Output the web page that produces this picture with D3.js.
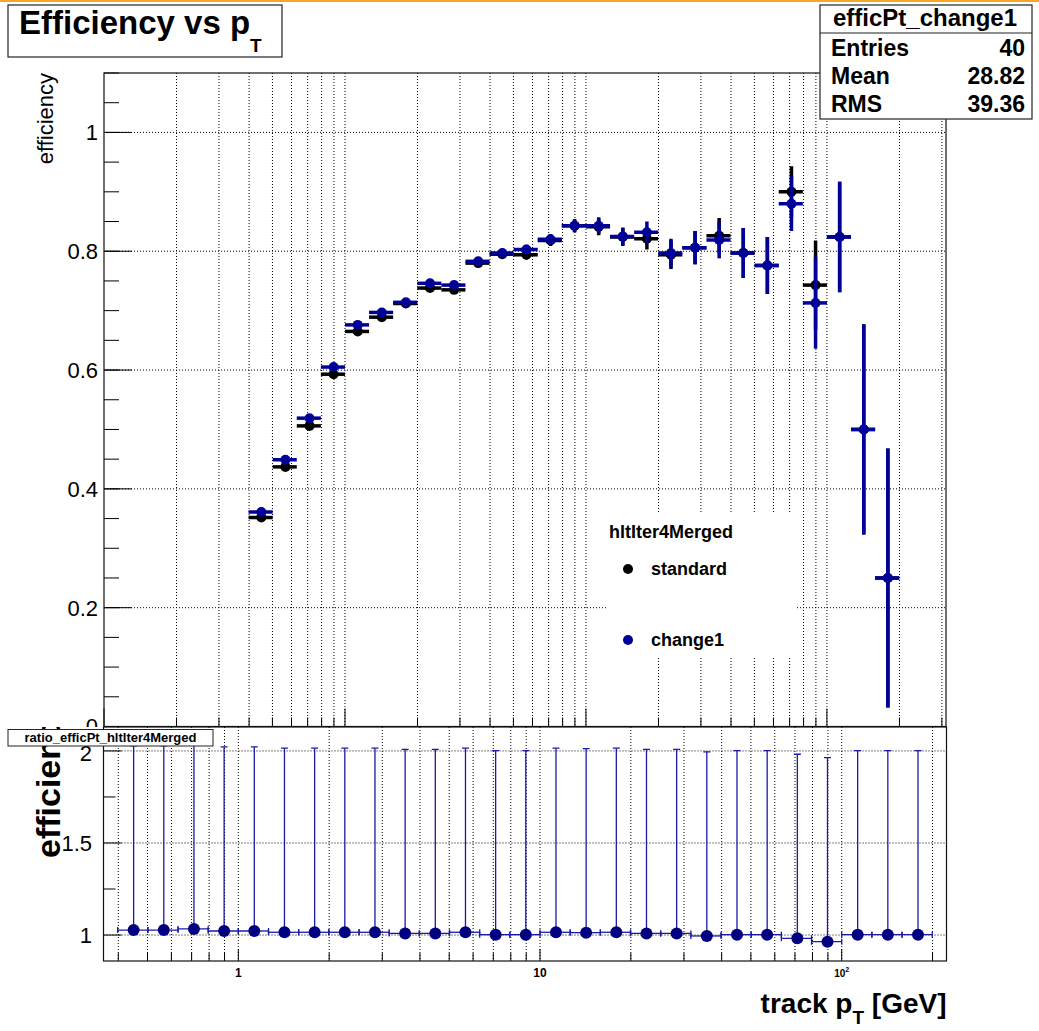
<!DOCTYPE html>
<html><head><meta charset="utf-8">
<script src="https://cdn.jsdelivr.net/npm/d3@7"></script>
<style>
body{margin:0;background:#fff;}
svg{display:block;font-family:"Liberation Sans",Arial,Helvetica,sans-serif;}
</style></head><body>
<svg id="c" width="1039" height="1031"></svg>
<script>
// ---------------- data ----------------
const binEdges = [0.3981, 0.5012, 0.6310, 0.7943, 1.0, 1.2589, 1.5849, 1.9953, 2.5119, 3.1623,
  3.9811, 5.0119, 6.3096, 7.9433, 10.0, 12.589, 15.849, 19.953, 25.119, 31.623,
  39.811, 50.119, 63.096, 79.433, 100.0, 125.89, 158.49, 199.53];
const effStandard = [0.352, 0.437, 0.506, 0.593, 0.665, 0.689, 0.712, 0.738, 0.735, 0.780,
  0.795, 0.794, 0.818, 0.843, 0.841, 0.824, 0.821, 0.794, 0.806, 0.826,
  0.797, 0.776, 0.900, 0.743, 0.824, 0.500, 0.250];
const errStandard = [0.005, 0.005, 0.005, 0.005, 0.005, 0.005, 0.005, 0.005, 0.006, 0.006,
  0.007, 0.008, 0.009, 0.011, 0.014, 0.015, 0.018, 0.024, 0.028, 0.030,
  0.042, 0.048, 0.043, 0.075, 0.093, 0.177, 0.218];
const effChange1 = [0.361, 0.449, 0.519, 0.605, 0.676, 0.697, 0.714, 0.746, 0.743, 0.783,
  0.797, 0.803, 0.820, 0.843, 0.843, 0.825, 0.832, 0.797, 0.806, 0.819,
  0.797, 0.776, 0.880, 0.713, 0.824, 0.500, 0.250];
const errChange1 = [0.005, 0.005, 0.005, 0.005, 0.005, 0.005, 0.005, 0.005, 0.006, 0.006,
  0.007, 0.008, 0.009, 0.011, 0.014, 0.015, 0.018, 0.024, 0.028, 0.031,
  0.042, 0.048, 0.046, 0.077, 0.093, 0.177, 0.218];
const ratioValues = [1.027, 1.027, 1.033, 1.022, 1.022, 1.015, 1.015, 1.015, 1.015, 1.009,
  1.009, 1.015, 1.002, 1.002, 1.015, 1.013, 1.015, 1.009, 1.009, 0.995,
  1.002, 1.002, 0.982, 0.964, 1.002, 1.002, 1.002];
const ratioErrUp = [1.0, 1.0, 1.0, 1.0, 1.0, 1.0, 1.0, 1.0, 1.0, 1.0,
  1.0, 1.0, 1.0, 1.0, 1.0, 1.0, 1.0, 1.0, 1.0, 1.0,
  1.0, 1.0, 1.0, 1.0, 1.0, 1.0, 1.0];
const topYTicks = [0, 0.2, 0.4, 0.6, 0.8, 1.0];
const topYTickLabels = ["0", "0.2", "0.4", "0.6", "0.8", "1"];
const ratioYTicks = [1, 1.5, 2];
const ratioYTickLabels = ["1", "1.5", "2"];
const ratioYMinor = [1.25, 1.75];
const xTickLabels = [{v: 1, base: "1", sup: ""}, {v: 10, base: "10", sup: ""}, {v: 100, base: "10", sup: "2"}];
const statsRows = [["Entries", "40"], ["Mean", "28.82"], ["RMS", "39.36"]];
const legendEntries = [{label: "standard", color: "#000000"}, {label: "change1", color: "#000099"}];

// ---------------- setup ----------------
const svg = d3.select("#c");
const BLUE = "#000099";
const GRID = {stroke: "#000", width: 1, dash: "1,2"};

svg.append("rect").attr("x", 0).attr("y", 0).attr("width", 1039).attr("height", 1031).attr("fill", "#fff");
svg.append("rect").attr("x", 0).attr("y", 0).attr("width", 1039).attr("height", 2).attr("fill", "#f5a623");

// ---------------- top pad ----------------
const xTop = d3.scaleLog().domain([0.1, 312]).range([104, 946]);
const yTop = d3.scaleLinear().domain([0, 1.1]).range([726.5, 73]);
const [tx0, tx1] = xTop.range();
const [ty0, ty1] = yTop.range(); // bottom, top

const isMajor = v => Math.abs(Math.log10(v) - Math.round(Math.log10(v))) < 1e-6;

const topG = svg.append("g");
const topXT = xTop.ticks().filter(v => xTop(v) > tx0 + 0.5 && xTop(v) < tx1 - 0.5);
topG.selectAll("line.vg").data(topXT).join("line")
  .attr("x1", d => xTop(d)).attr("x2", d => xTop(d)).attr("y1", ty1).attr("y2", ty0)
  .attr("stroke", GRID.stroke).attr("stroke-width", GRID.width).attr("stroke-dasharray", GRID.dash);
topG.selectAll("line.hg").data(topYTicks.filter(v => v > 0)).join("line")
  .attr("x1", tx0).attr("x2", tx1).attr("y1", d => yTop(d)).attr("y2", d => yTop(d))
  .attr("stroke", GRID.stroke).attr("stroke-width", GRID.width).attr("stroke-dasharray", GRID.dash);

const topYMinor = d3.range(0, 1.1001, 0.05);
topG.selectAll("line.ymin").data(topYMinor).join("line")
  .attr("x1", tx0).attr("x2", tx0 + 15).attr("y1", d => yTop(d)).attr("y2", d => yTop(d))
  .attr("stroke", "#000").attr("stroke-width", 1);
topG.selectAll("line.ymaj").data(topYTicks).join("line")
  .attr("x1", tx0).attr("x2", tx0 + 28).attr("y1", d => yTop(d)).attr("y2", d => yTop(d))
  .attr("stroke", "#000").attr("stroke-width", 1);
topG.selectAll("line.xt").data(xTop.ticks()).join("line")
  .attr("x1", d => xTop(d)).attr("x2", d => xTop(d)).attr("y1", ty0).attr("y2", d => ty0 - (isMajor(d) ? 18 : 9))
  .attr("stroke", "#000").attr("stroke-width", 1);

topG.selectAll("text.yl").data(topYTicks).join("text")
  .attr("x", 98).attr("y", d => yTop(d)).attr("dy", "0.36em").attr("text-anchor", "end")
  .attr("font-size", 22).text((d, i) => topYTickLabels[i]);
topG.append("text").attr("transform", `translate(53,${ty1}) rotate(-90)`)
  .attr("text-anchor", "end").attr("font-size", 22).text("efficiency");

topG.append("rect").attr("x", tx0).attr("y", ty1).attr("width", tx1 - tx0).attr("height", ty0 - ty1)
  .attr("fill", "none").attr("stroke", "#111").attr("stroke-width", 1.2);

svg.append("clipPath").attr("id", "clipTop").append("rect")
  .attr("x", tx0).attr("y", ty1).attr("width", tx1 - tx0).attr("height", ty0 - ty1);
const dataG = topG.append("g").attr("clip-path", "url(#clipTop)");
function drawSeries(vals, errs, color) {
  const g = dataG.append("g");
  const pts = vals.map((v, i) => ({v, e: errs[i], lo: binEdges[i], hi: binEdges[i + 1]}));
  g.selectAll("line.h").data(pts).join("line")
    .attr("x1", d => xTop(d.lo)).attr("x2", d => xTop(d.hi))
    .attr("y1", d => yTop(d.v)).attr("y2", d => yTop(d.v))
    .attr("stroke", color).attr("stroke-width", 3.5);
  g.selectAll("line.v").data(pts).join("line")
    .attr("x1", d => xTop((d.lo + d.hi) / 2)).attr("x2", d => xTop((d.lo + d.hi) / 2))
    .attr("y1", d => yTop(d.v - d.e)).attr("y2", d => yTop(d.v + d.e))
    .attr("stroke", color).attr("stroke-width", 3.5);
  g.selectAll("circle").data(pts).join("circle")
    .attr("cx", d => xTop((d.lo + d.hi) / 2)).attr("cy", d => yTop(d.v)).attr("r", 5)
    .attr("fill", color);
}
drawSeries(effStandard, errStandard, "#000000");
drawSeries(effChange1, errChange1, BLUE);

// legend
const leg = svg.append("g");
leg.append("rect").attr("x", 607).attr("y", 513).attr("width", 188).attr("height", 145).attr("fill", "#fff");
leg.append("text").attr("x", 609).attr("y", 538).attr("font-size", 18).attr("font-weight", "bold").text("hltIter4Merged");
leg.selectAll("circle").data(legendEntries).join("circle")
  .attr("cx", 628).attr("cy", (d, i) => 569 + i * 71).attr("r", 5).attr("fill", d => d.color);
leg.selectAll("text.le").data(legendEntries).join("text")
  .attr("x", 651).attr("y", (d, i) => 575 + i * 71).attr("font-size", 18).attr("font-weight", "bold")
  .text(d => d.label);

// title box
svg.append("rect").attr("x", 8).attr("y", 5).attr("width", 274).attr("height", 52)
  .attr("fill", "#fff").attr("stroke", "#222").attr("stroke-width", 1.2);
const tt = svg.append("text").attr("x", 19).attr("y", 34).attr("font-size", 33).attr("font-weight", "bold");
tt.append("tspan").text("Efficiency vs p");
tt.append("tspan").attr("font-size", 19).attr("dy", 18).text("T");

// stats box
const sb = svg.append("g");
sb.append("rect").attr("x", 820).attr("y", 5).attr("width", 212).attr("height", 114)
  .attr("fill", "#fff").attr("stroke", "#222").attr("stroke-width", 1.2);
sb.append("line").attr("x1", 820).attr("x2", 1032).attr("y1", 33).attr("y2", 33).attr("stroke", "#222").attr("stroke-width", 1.2);
sb.append("text").attr("x", 925).attr("y", 26).attr("text-anchor", "middle").attr("font-size", 24)
  .attr("font-weight", "bold").text("efficPt_change1");
sb.selectAll("text.sl").data(statsRows).join("text")
  .attr("x", 831).attr("y", (d, i) => 56 + i * 28).attr("font-size", 23).attr("font-weight", "bold").text(d => d[0]);
sb.selectAll("text.sv").data(statsRows).join("text")
  .attr("x", 1025).attr("y", (d, i) => 56 + i * 28).attr("text-anchor", "end").attr("font-size", 23)
  .attr("font-weight", "bold").text(d => d[1]);

// ---------------- bottom pad ----------------
const xBot = d3.scaleLog().domain([0.3573, 222.5]).range([103.5, 946.5]);
const yBot = d3.scaleLinear().domain([0.859, 2.13]).range([961, 727]);
const [bx0, bx1] = xBot.range();
const [by0, by1] = yBot.range();
const botG = svg.append("g");
botG.append("rect").attr("x", 0).attr("y", 727).attr("width", 1039).attr("height", 304).attr("fill", "#fff");

const botXT = xBot.ticks().filter(v => xBot(v) > bx0 + 0.5 && xBot(v) < bx1 - 0.5);
botG.selectAll("line.vg").data(botXT).join("line")
  .attr("x1", d => xBot(d)).attr("x2", d => xBot(d)).attr("y1", by1).attr("y2", by0)
  .attr("stroke", GRID.stroke).attr("stroke-width", GRID.width).attr("stroke-dasharray", GRID.dash);
botG.selectAll("line.hg").data(ratioYTicks).join("line")
  .attr("x1", bx0).attr("x2", bx1).attr("y1", d => yBot(d)).attr("y2", d => yBot(d))
  .attr("stroke", GRID.stroke).attr("stroke-width", GRID.width).attr("stroke-dasharray", GRID.dash);

botG.selectAll("line.ymaj").data(ratioYTicks).join("line")
  .attr("x1", bx0).attr("x2", bx0 + 18).attr("y1", d => yBot(d)).attr("y2", d => yBot(d))
  .attr("stroke", "#000").attr("stroke-width", 1);
botG.selectAll("line.ymin").data(ratioYMinor).join("line")
  .attr("x1", bx0).attr("x2", bx0 + 12).attr("y1", d => yBot(d)).attr("y2", d => yBot(d))
  .attr("stroke", "#000").attr("stroke-width", 1);
botG.selectAll("line.xt").data(botXT).join("line")
  .attr("x1", d => xBot(d)).attr("x2", d => xBot(d)).attr("y1", by0).attr("y2", d => by0 - (isMajor(d) ? 12 : 8))
  .attr("stroke", "#000").attr("stroke-width", 1);

// y title (clipped to the lower pad)
svg.append("clipPath").attr("id", "clipBotPad").append("rect")
  .attr("x", 0).attr("y", 727).attr("width", 1039).attr("height", 304);
botG.append("g").attr("clip-path", "url(#clipBotPad)")
  .append("text").attr("transform", "translate(60,858) rotate(-90)")
  .attr("font-size", 34).attr("font-weight", "bold").text("efficiency");

botG.selectAll("text.yl").data(ratioYTicks).join("text")
  .attr("x", 92).attr("y", d => yBot(d) + (d === 2 ? 2 : 0)).attr("dy", "0.36em").attr("text-anchor", "end")
  .attr("font-size", 22).text((d, i) => ratioYTickLabels[i]);

const xl = botG.selectAll("text.xl").data(xTickLabels).join("text")
  .attr("x", d => xBot(d.v)).attr("y", 977).attr("text-anchor", "middle")
  .attr("font-size", d => d.sup ? 10 : 12).attr("font-weight", "bold");
xl.append("tspan").text(d => d.base);
xl.filter(d => d.sup).append("tspan").attr("font-size", 7).attr("dy", -5).text(d => d.sup);

const xtt = botG.append("text").attr("x", 946.5).attr("y", 1013).attr("text-anchor", "end")
  .attr("font-size", 28).attr("font-weight", "bold");
xtt.append("tspan").text("track p");
xtt.append("tspan").attr("font-size", 19).attr("dy", 11).text("T");
xtt.append("tspan").attr("dy", -11).text(" [GeV]");

// ratio data
svg.append("clipPath").attr("id", "clipBot").append("rect")
  .attr("x", bx0).attr("y", by1).attr("width", bx1 - bx0).attr("height", by0 - by1);
const rG = botG.append("g").attr("clip-path", "url(#clipBot)");
const rpts = ratioValues.map((v, i) => ({v, e: ratioErrUp[i], lo: binEdges[i], hi: binEdges[i + 1]}));
const RL = "#1a1aa6";
rG.selectAll("line.h").data(rpts).join("line")
  .attr("x1", d => xBot(d.lo)).attr("x2", d => xBot(d.hi)).attr("y1", d => yBot(d.v)).attr("y2", d => yBot(d.v))
  .attr("stroke", RL).attr("stroke-width", 1.3);
rG.selectAll("line.cl").data(rpts).join("line")
  .attr("x1", d => xBot(d.lo)).attr("x2", d => xBot(d.lo)).attr("y1", d => yBot(d.v) - 3).attr("y2", d => yBot(d.v) + 3)
  .attr("stroke", RL).attr("stroke-width", 1.3);
rG.selectAll("line.cr").data(rpts).join("line")
  .attr("x1", d => xBot(d.hi)).attr("x2", d => xBot(d.hi)).attr("y1", d => yBot(d.v) - 3).attr("y2", d => yBot(d.v) + 3)
  .attr("stroke", RL).attr("stroke-width", 1.3);
rG.selectAll("line.v").data(rpts).join("line")
  .attr("x1", d => xBot((d.lo + d.hi) / 2)).attr("x2", d => xBot((d.lo + d.hi) / 2))
  .attr("y1", d => yBot(d.v)).attr("y2", d => yBot(d.v + d.e))
  .attr("stroke", RL).attr("stroke-width", 1.3);
rG.selectAll("line.ct").data(rpts).join("line")
  .attr("x1", d => xBot((d.lo + d.hi) / 2) - 3.5).attr("x2", d => xBot((d.lo + d.hi) / 2) + 3.5)
  .attr("y1", d => yBot(d.v + d.e)).attr("y2", d => yBot(d.v + d.e))
  .attr("stroke", RL).attr("stroke-width", 1.3);
rG.selectAll("circle").data(rpts).join("circle")
  .attr("cx", d => xBot((d.lo + d.hi) / 2)).attr("cy", d => yBot(d.v)).attr("r", 6).attr("fill", "#000080");

botG.append("rect").attr("x", bx0).attr("y", by1).attr("width", bx1 - bx0).attr("height", by0 - by1)
  .attr("fill", "none").attr("stroke", "#111").attr("stroke-width", 1.2);

// ratio label box
botG.append("rect").attr("x", 8).attr("y", 729.5).attr("width", 205).attr("height", 16.5)
  .attr("fill", "#fff").attr("stroke", "#222").attr("stroke-width", 1);
botG.append("text").attr("x", 110.5).attr("y", 742).attr("text-anchor", "middle")
  .attr("font-size", 13).attr("font-weight", "bold").text("ratio_efficPt_hltIter4Merged");
</script>
</body></html>
